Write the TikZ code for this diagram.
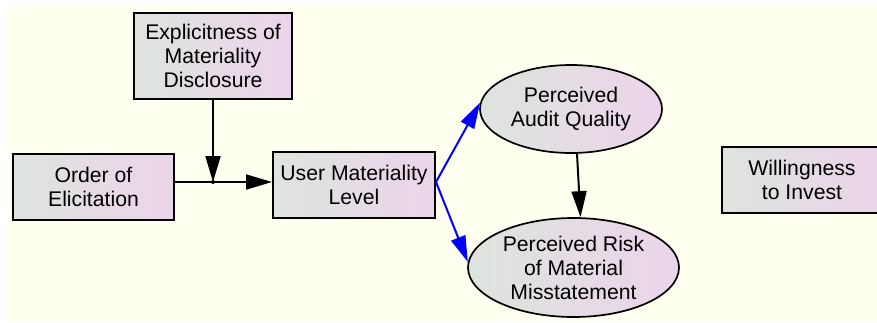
\documentclass[tikz,border=0pt]{standalone}
\usepackage{fontspec}
\setmainfont{Liberation Sans}
\usetikzlibrary{arrows.meta,shapes.geometric}
\definecolor{canvas}{RGB}{254,255,238}
\definecolor{fillL}{RGB}{221,228,222}
\definecolor{fillR}{RGB}{236,212,234}
\tikzset{
  var/.style={draw=black, line width=2pt, left color=fillL, right color=fillR,
    align=center, inner sep=0pt, font=\fontsize{21.2}{24}\selectfont},
  boxnode/.style={var, rectangle},
  ovalnode/.style={var, ellipse, line width=1.7pt},
  link/.style={line width=2pt, -{Triangle[length=26pt,width=15pt]}},
  bluelink/.style={link, draw=blue, -{Triangle[length=26pt,width=15pt,fill=blue]}},
}
\begin{document}
\begin{tikzpicture}[x=1pt,y=-1pt]
  \useasboundingbox (0,0) rectangle (877,322);
  \fill[canvas] (8,5) rectangle (877,322);

  % variables
  \node[boxnode, minimum width=158pt, minimum height=86pt] (exp) at (213,56)
    {Explicitness of\\Materiality\\Disclosure};
  \node[boxnode, minimum width=161pt, minimum height=66pt] (ord) at (93.5,187)
    {Order of\\Elicitation};
  \node[boxnode, minimum width=162pt, minimum height=66pt] (usr) at (354,185)
    {User Materiality\\Level};
  \node[ovalnode, minimum width=182pt, minimum height=88pt] (paq) at (571,109)
    {Perceived\\Audit Quality};
  \node[ovalnode, minimum width=211pt, minimum height=99pt] (prm) at (573.5,267.5)
    {Perceived Risk\\of Material\\Misstatement};
  \node[boxnode, minimum width=160pt, minimum height=66pt] (wil) at (802,180)
    {Willingness\\to Invest};

  % moderation junction
  \coordinate (j) at (213,182);
  \draw[line width=2pt] (ord.east |- j) -- (j);
  \draw[link] (j) -- (usr.west |- j);
  \draw[link] (exp.south) -- (j);
  \fill (j) circle (2pt);

  % effects of materiality level
  \coordinate (u) at (usr.east |- j);
  \draw[bluelink] (u) -- (paq.176);
  \draw[bluelink] (u) -- (prm.177);
  \draw[link] ([xshift=6pt]paq.south) -- ([xshift=7pt]prm.north);
\end{tikzpicture}
\end{document}
